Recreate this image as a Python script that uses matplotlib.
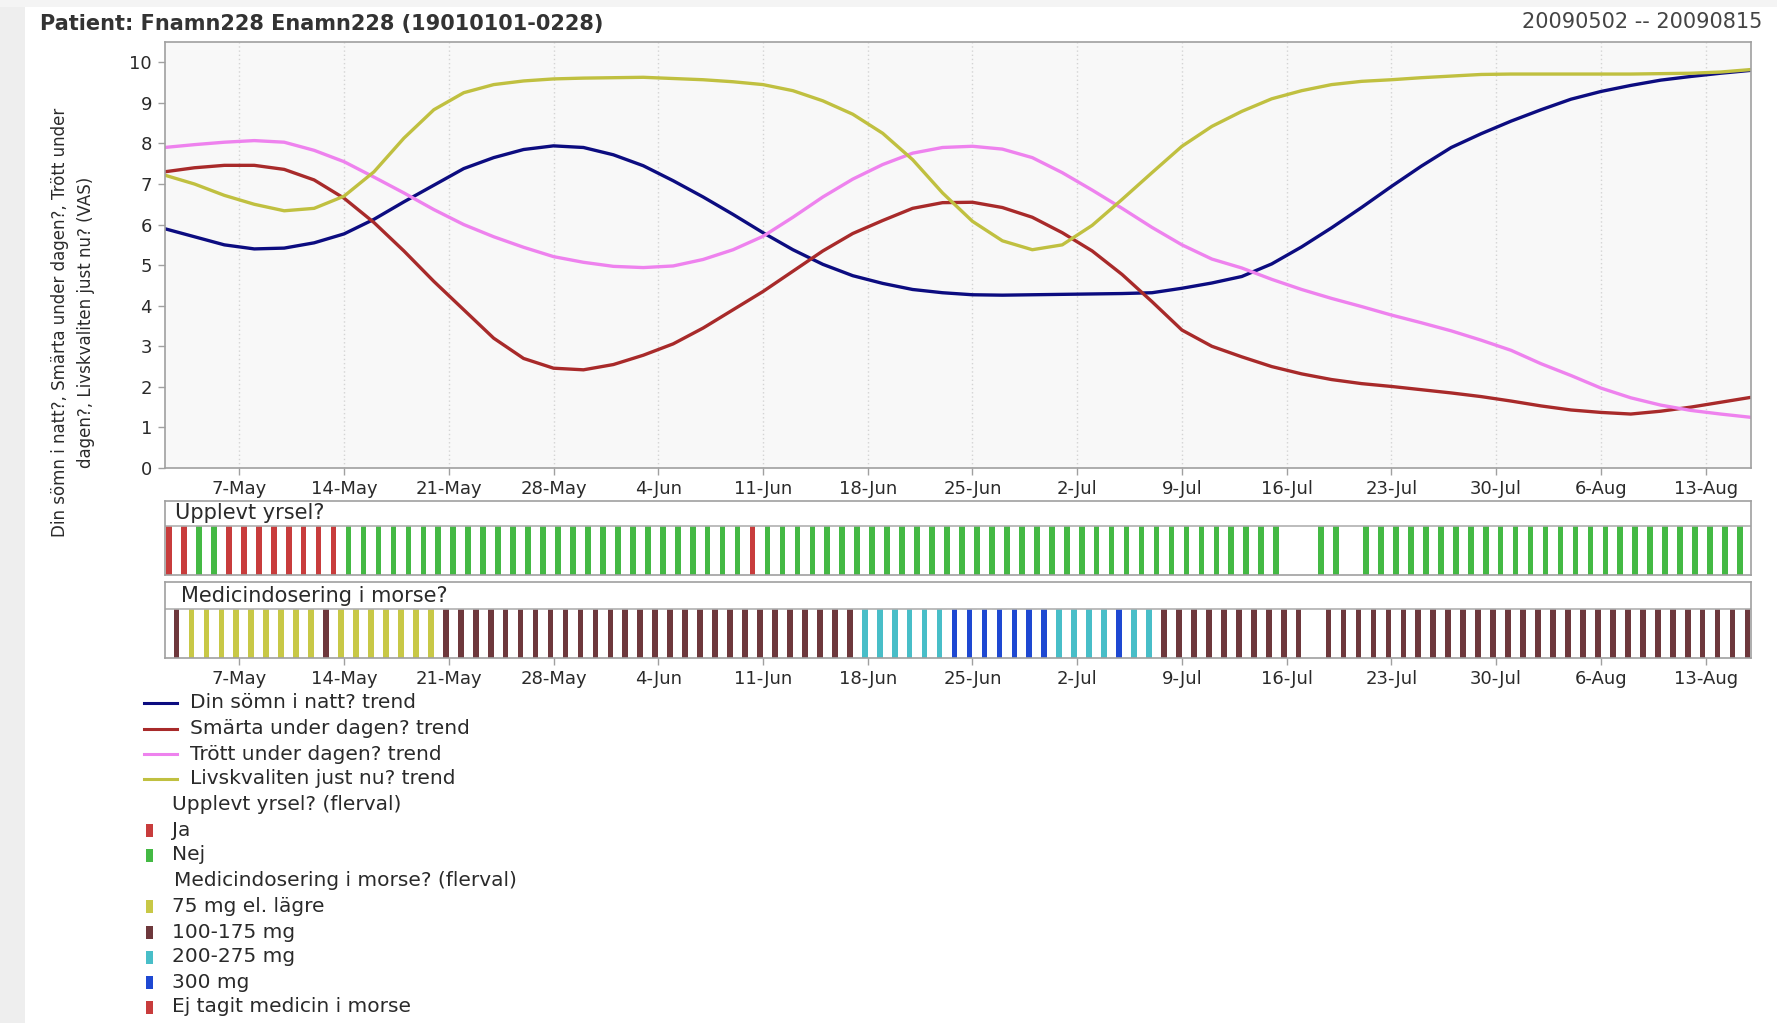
import numpy as np
import pandas as pd
import matplotlib
matplotlib.use("Agg")
import matplotlib.pyplot as plt
import matplotlib.dates as mdates
import matplotlib.transforms as mtransforms
from matplotlib.lines import Line2D
from matplotlib.patches import Rectangle

# ---------------- data ----------------
title_left = "Patient: Fnamn228 Enamn228 (19010101-0228)"
title_right = "20090502 -- 20090815"
y_label = "Din sömn i natt?, Smärta under dagen?, Trött under\ndagen?, Livskvaliten just nu? (VAS)"

period_start = "2009-05-02"
period_end = "2009-08-16"

# trend curves, read every second day from 2 May to 16 Aug
trend_dates = pd.date_range(period_start, period_end, freq="2D")
somn = [5.9, 5.7, 5.5, 5.4, 5.42, 5.55, 5.77, 6.13, 6.56, 6.97,
        7.38, 7.65, 7.85, 7.94, 7.9, 7.72, 7.45, 7.08, 6.68, 6.25,
        5.8, 5.38, 5.02, 4.74, 4.55, 4.4, 4.32, 4.27, 4.26, 4.27,
        4.28, 4.29, 4.3, 4.32, 4.43, 4.56, 4.72, 5.03, 5.45, 5.92,
        6.42, 6.94, 7.44, 7.9, 8.24, 8.55, 8.83, 9.09, 9.28, 9.43,
        9.56, 9.65, 9.73, 9.8]
smarta = [7.3, 7.4, 7.46, 7.46, 7.36, 7.1, 6.65, 6.05, 5.35, 4.6,
          3.9, 3.2, 2.7, 2.46, 2.42, 2.55, 2.78, 3.06, 3.45, 3.9,
          4.35, 4.85, 5.35, 5.78, 6.1, 6.4, 6.54, 6.55, 6.42, 6.18,
          5.8, 5.35, 4.77, 4.1, 3.4, 3.0, 2.74, 2.5, 2.32, 2.18,
          2.08, 2.01, 1.93, 1.85, 1.76, 1.65, 1.53, 1.43, 1.37, 1.33,
          1.4, 1.5, 1.62, 1.74]
trott = [7.9, 7.97, 8.03, 8.07, 8.03, 7.83, 7.55, 7.17, 6.78, 6.37,
         6.0, 5.7, 5.44, 5.21, 5.07, 4.97, 4.94, 4.98, 5.14, 5.38,
         5.71, 6.18, 6.68, 7.12, 7.48, 7.76, 7.9, 7.93, 7.86, 7.65,
         7.28, 6.85, 6.4, 5.93, 5.5, 5.15, 4.93, 4.65, 4.4, 4.18,
         3.98, 3.77, 3.58, 3.38, 3.15, 2.9, 2.57, 2.28, 1.97, 1.73,
         1.55, 1.42, 1.33, 1.25]
livskvalitet = [7.22, 7.0, 6.72, 6.5, 6.34, 6.4, 6.7, 7.3, 8.13, 8.83,
                9.25, 9.45, 9.54, 9.59, 9.61, 9.62, 9.63, 9.6, 9.57, 9.52,
                9.45, 9.3, 9.05, 8.72, 8.25, 7.6, 6.78, 6.08, 5.6, 5.38,
                5.5, 5.98, 6.62, 7.28, 7.93, 8.42, 8.79, 9.1, 9.3, 9.45,
                9.53, 9.57, 9.62, 9.66, 9.7, 9.71, 9.71, 9.71, 9.71, 9.71,
                9.72, 9.73, 9.76, 9.82]

series_names = ["Din sömn i natt? trend", "Smärta under dagen? trend",
                "Trött under dagen? trend", "Livskvaliten just nu? trend"]
series_colors = ["#0c0c80", "#a82a2a", "#ee82ee", "#c0c040"]

tick_dates = ["2009-05-07", "2009-05-14", "2009-05-21", "2009-05-28",
              "2009-06-04", "2009-06-11", "2009-06-18", "2009-06-25",
              "2009-07-02", "2009-07-09", "2009-07-16", "2009-07-23",
              "2009-07-30", "2009-08-06", "2009-08-13"]
tick_labels = ["7-May", "14-May", "21-May", "28-May", "4-Jun", "11-Jun",
               "18-Jun", "25-Jun", "2-Jul", "9-Jul", "16-Jul", "23-Jul",
               "30-Jul", "6-Aug", "13-Aug"]
y_ticks = [0, 1, 2, 3, 4, 5, 6, 7, 8, 9, 10]

# daily answers, run-length coded from 2 May (None = no answer)
yrsel_title = "Upplevt yrsel?"
yrsel_legend_title = "Upplevt yrsel? (flerval)"
yrsel_categories = ["Ja", "Nej"]
yrsel_colors = ["#c83c3c", "#44b944"]
yrsel_runs = [("Ja", 2), ("Nej", 2), ("Ja", 8), ("Nej", 27), ("Ja", 1),
              ("Nej", 35), (None, 2), ("Nej", 2), (None, 1), ("Nej", 26)]

medicin_title = "Medicindosering i morse?"
medicin_legend_title = "Medicindosering i morse? (flerval)"
medicin_categories = ["75 mg el. lägre", "100-175 mg", "200-275 mg",
                      "300 mg", "Ej tagit medicin i morse"]
medicin_colors = ["#c8c846", "#6e383c", "#48bec8", "#1e48d2", "#c83c3c"]
medicin_runs = [("100-175 mg", 1), ("75 mg el. lägre", 9), ("100-175 mg", 1),
                ("75 mg el. lägre", 7), ("100-175 mg", 28), ("200-275 mg", 6),
                ("300 mg", 7), ("200-275 mg", 4), ("300 mg", 1),
                ("200-275 mg", 2), ("100-175 mg", 10), (None, 1),
                ("100-175 mg", 29)]

# ---------------- layout helpers ----------------
W, H = 1777, 1023
fig = plt.figure(figsize=(W / 100, H / 100), dpi=100, facecolor="white")


def rect(left, top, right, bottom):
    return [left / W, 1 - bottom / H, (right - left) / W, (bottom - top) / H]


TXT = "#2a2a2a"
SPINE = "#a0a0a0"
FS_TICK = 13
FS_LEG = 14.5
FS_HEAD = 15

x0 = mdates.date2num(pd.Timestamp(period_start))
x1 = mdates.date2num(pd.Timestamp(period_end))
tick_x = [mdates.date2num(pd.Timestamp(d)) for d in tick_dates]

# background strip on the left / top
bg = fig.add_axes([0, 0, 1, 1], zorder=-5)
bg.set_xlim(0, W)
bg.set_ylim(H, 0)
bg.axis("off")
bg.add_patch(Rectangle((0, 0), 25, H, color="#eeeeee", lw=0))
bg.add_patch(Rectangle((0, 0), W, 7, color="#f4f4f4", lw=0))

# ---------------- main trend chart ----------------
ax = fig.add_axes(rect(164.5, 42, 1750.5, 468))
ax.set_facecolor("#f8f8f8")
ax.set_axisbelow(True)
tdx = mdates.date2num(trend_dates)
for vals, name, col in zip([somn, smarta, trott, livskvalitet], series_names, series_colors):
    ax.plot(tdx, vals, color=col, lw=2.4, label=name,
            solid_capstyle="round", solid_joinstyle="round")
ax.set_xlim(x0, x1)
ax.set_ylim(0, 10.5)
ax.set_yticks(y_ticks)
ax.set_yticklabels([str(v) for v in y_ticks])
ax.set_xticks(tick_x)
ax.set_xticklabels(tick_labels)
ax.grid(axis="x", color="#d4d4d4", linestyle=(0, (1, 2)), lw=1)
ax.grid(axis="y", visible=False)
for s in ax.spines.values():
    s.set_color(SPINE)
    s.set_linewidth(1.2)
ax.tick_params(axis="both", colors=SPINE, labelcolor=TXT, labelsize=FS_TICK,
               length=5, width=1, direction="out", pad=4)

# ---------------- category bar panels ----------------
day_dates = pd.date_range(period_start, periods=106, freq="D")


def expand(runs):
    out = []
    for cat, n in runs:
        out.extend([cat] * n)
    return out


def bar_panel(top, line_y, bottom, runs, cats, cols, header, header_x, offset, show_ticks):
    pax = fig.add_axes(rect(164.5, top, 1750.5, bottom))
    ratio = (bottom - top) / (bottom - line_y)
    answers = expand(runs)
    xs, cs = [], []
    for d, a in zip(day_dates, answers):
        if a is None:
            continue
        xs.append(mdates.date2num(d) + offset)
        cs.append(cols[cats.index(a)])
    pax.bar(xs, [1] * len(xs), width=0.38, color=cs, align="center", lw=0)
    pax.set_xlim(x0, x1)
    pax.set_ylim(0, ratio)
    pax.axhline(1, color="#b0b0b0", lw=1.2)
    pax.set_yticks([])
    pax.set_facecolor("white")
    for s in pax.spines.values():
        s.set_color(SPINE)
        s.set_linewidth(1.2)
    trans = mtransforms.blended_transform_factory(pax.transAxes, pax.transData)
    pax.text((header_x - 164.5) / 1586, (1 + ratio) / 2, header, transform=trans,
             ha="left", va="center", fontsize=FS_HEAD, color=TXT)
    if show_ticks:
        pax.set_xticks(tick_x)
        pax.set_xticklabels(tick_labels)
        pax.tick_params(axis="x", colors=SPINE, labelcolor=TXT, labelsize=FS_TICK,
                        length=5, width=1, direction="out", pad=4)
    else:
        pax.set_xticks([])
    return pax


bar_panel(501, 526, 575, yrsel_runs, yrsel_categories, yrsel_colors,
          yrsel_title, 175, 0.3, False)
bar_panel(582, 609, 658, medicin_runs, medicin_categories, medicin_colors,
          medicin_title, 181, 0.8, True)

# ---------------- texts ----------------
fig.text(40 / W, 1 - 24 / H, title_left, ha="left", va="center",
         fontsize=15, fontweight="bold", color="#333333")
fig.text(1762 / W, 1 - 22 / H, title_right, ha="right", va="center",
         fontsize=15, color="#444444")
fig.text(73 / W, 1 - 322 / H, y_label, rotation=90, ha="center", va="center",
         multialignment="center", fontsize=12, color=TXT, linespacing=1.6)

# ---------------- legend (drawn manually) ----------------
leg = bg
row_y = [703, 729, 754, 779, 805, 830, 855, 881, 906, 932, 957, 982, 1007]
r = 0
for name, col in zip(series_names, series_colors):
    leg.add_line(Line2D([144, 177], [row_y[r], row_y[r]], color=col, lw=2.2))
    leg.text(190, row_y[r], name, ha="left", va="center", fontsize=FS_LEG, color=TXT)
    r += 1
leg.text(172, row_y[r], yrsel_legend_title, ha="left", va="center", fontsize=FS_LEG, color=TXT)
r += 1
for name, col in zip(yrsel_categories, yrsel_colors):
    leg.add_patch(Rectangle((146, row_y[r] - 6.5), 7, 13, color=col, lw=0))
    leg.text(172, row_y[r], name, ha="left", va="center", fontsize=FS_LEG, color=TXT)
    r += 1
leg.text(174, row_y[r], medicin_legend_title, ha="left", va="center", fontsize=FS_LEG, color=TXT)
r += 1
for name, col in zip(medicin_categories, medicin_colors):
    leg.add_patch(Rectangle((146, row_y[r] - 6.5), 7, 13, color=col, lw=0))
    leg.text(172, row_y[r], name, ha="left", va="center", fontsize=FS_LEG, color=TXT)
    r += 1

fig.savefig("out.png", dpi=100, facecolor="white")
